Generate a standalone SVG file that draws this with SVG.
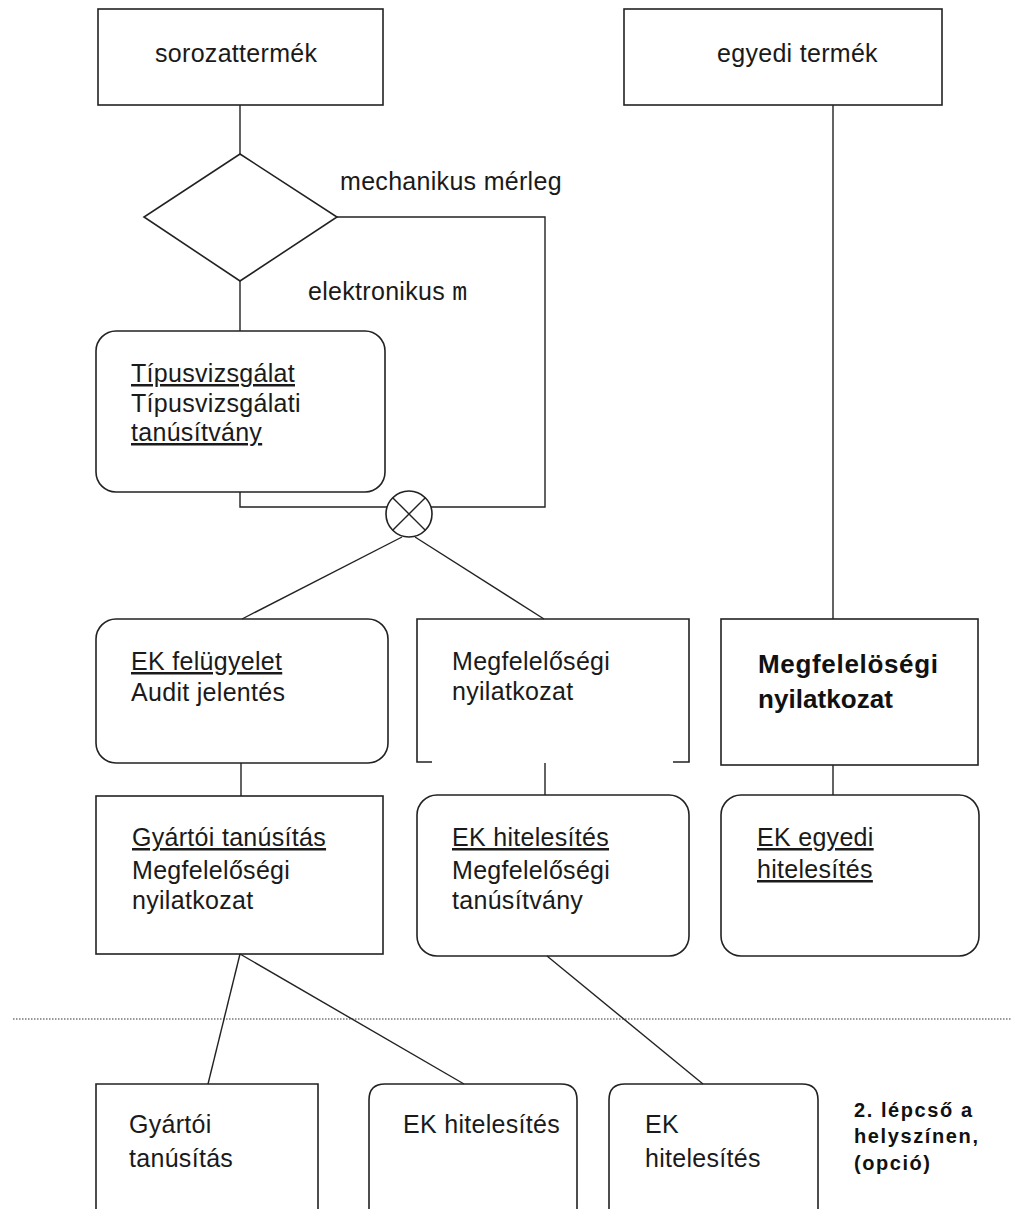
<svg xmlns="http://www.w3.org/2000/svg" width="1011" height="1209" viewBox="0 0 1011 1209">
<style>
.b{fill:none;stroke:#222;stroke-width:1.6}
.c{fill:none;stroke:#222;stroke-width:1.4}
.t{font-family:"Liberation Sans",Arial,sans-serif;font-size:25px;fill:#1a1a1a;letter-spacing:0.3px}
.tb{font-family:"Liberation Sans",Arial,sans-serif;font-size:26px;font-weight:bold;fill:#111}
.s{font-family:"Liberation Sans",Arial,sans-serif;font-size:20px;font-weight:bold;fill:#111}
.u{text-decoration:underline}
</style>
<rect width="1011" height="1209" fill="#fff"/>
<g id="connectors">
<line class="c" x1="240" y1="105" x2="240" y2="154"/>
<line class="c" x1="240" y1="281" x2="240" y2="331"/>
<polyline class="c" points="240,492 240,507 387,507"/>
<polyline class="c" points="431,507 545,507 545,217 337,217"/>
<line class="c" x1="402" y1="537" x2="242" y2="619"/>
<line class="c" x1="415" y1="537" x2="544" y2="619"/>
<line class="c" x1="833" y1="105" x2="833" y2="619"/>
<line class="c" x1="241" y1="763" x2="241" y2="796"/>
<line class="c" x1="545" y1="763" x2="545" y2="795"/>
<line class="c" x1="833" y1="765" x2="833" y2="795"/>
<line class="c" x1="240" y1="954" x2="208" y2="1084"/>
<line class="c" x1="240" y1="954" x2="464" y2="1084"/>
<line class="c" x1="547" y1="956" x2="703" y2="1084"/>
</g>
<line id="separator" x1="13" y1="1019" x2="1011" y2="1019" stroke="#333" stroke-width="1.2" stroke-dasharray="1.5 1.5"/>
<g id="sorozattermek">
<rect class="b" x="98" y="9" width="285" height="96"/>
<text class="t" x="155" y="62">sorozattermék</text>
</g>
<g id="egyedi-termek">
<rect class="b" x="624" y="9" width="318" height="96"/>
<text class="t" x="717" y="62">egyedi termék</text>
</g>
<g id="decision">
<polygon class="b" points="240,154 337,217 240,281 144,217"/>
<text class="t" x="340" y="190">mechanikus mérleg</text>
<text class="t" x="308" y="300">elektronikus <tspan font-family="'Liberation Mono',monospace">m</tspan></text>
</g>
<g id="tipusvizsgalat">
<rect class="b" x="96" y="331" width="289" height="161" rx="20"/>
<text class="t" x="131" y="382"><tspan class="u">Típusvizsgálat</tspan></text>
<text class="t" x="131" y="412">Típusvizsgálati</text>
<text class="t" x="131" y="441"><tspan class="u">tanúsítvány</tspan></text>
</g>
<g id="junction">
<circle class="b" cx="409" cy="514" r="23"/>
<line class="c" x1="392.7" y1="497.7" x2="425.3" y2="530.3"/>
<line class="c" x1="425.3" y1="497.7" x2="392.7" y2="530.3"/>
</g>
<g id="ek-felugyelet">
<rect class="b" x="96" y="619" width="292" height="144" rx="20"/>
<text class="t" x="131" y="670"><tspan class="u">EK felügyelet</tspan></text>
<text class="t" x="131" y="701">Audit jelentés</text>
</g>
<g id="megfelelosegi-nyilatkozat">
<path class="b" d="M432,762 H417 V619 H689 V762 H673"/>
<text class="t" x="452" y="670">Megfelelőségi</text>
<text class="t" x="452" y="700">nyilatkozat</text>
</g>
<g id="megfelelosegi-nyilatkozat-egyedi">
<rect class="b" x="721" y="619" width="257" height="146"/>
<text class="tb" x="758" y="673" textLength="180" lengthAdjust="spacing">Megfelelöségi</text>
<text class="tb" x="758" y="708" textLength="135" lengthAdjust="spacing">nyilatkozat</text>
</g>
<g id="gyartoi-tanusitas">
<rect class="b" x="96" y="796" width="287" height="158"/>
<text class="t" x="132" y="846"><tspan class="u">Gyártói tanúsítás</tspan></text>
<text class="t" x="132" y="879">Megfelelőségi</text>
<text class="t" x="132" y="909">nyilatkozat</text>
</g>
<g id="ek-hitelesites">
<rect class="b" x="417" y="795" width="272" height="161" rx="20"/>
<text class="t" x="452" y="846"><tspan class="u">EK hitelesítés</tspan></text>
<text class="t" x="452" y="879">Megfelelőségi</text>
<text class="t" x="452" y="909">tanúsítvány</text>
</g>
<g id="ek-egyedi-hitelesites">
<rect class="b" x="721" y="795" width="258" height="161" rx="20"/>
<text class="t" x="757" y="846"><tspan class="u">EK egyedi</tspan></text>
<text class="t" x="757" y="878"><tspan class="u">hitelesítés</tspan></text>
</g>
<g id="bottom-gyartoi">
<path class="b" d="M96,1215 V1084 H318 V1215"/>
<text class="t" x="129" y="1133">Gyártói</text>
<text class="t" x="129" y="1167">tanúsítás</text>
</g>
<g id="bottom-ek-hitelesites-1">
<path class="b" d="M369,1215 V1100 Q369,1084 385,1084 H561 Q577,1084 577,1100 V1215"/>
<text class="t" x="403" y="1133">EK hitelesítés</text>
</g>
<g id="bottom-ek-hitelesites-2">
<path class="b" d="M609,1215 V1100 Q609,1084 625,1084 H802 Q818,1084 818,1100 V1215"/>
<text class="t" x="645" y="1133">EK</text>
<text class="t" x="645" y="1167">hitelesítés</text>
</g>
<g id="note">
<text class="s" x="854" y="1117" textLength="118" lengthAdjust="spacing">2. lépcső a</text>
<text class="s" x="854" y="1143" textLength="124" lengthAdjust="spacing">helyszínen,</text>
<text class="s" x="854" y="1170" textLength="76" lengthAdjust="spacing">(opció)</text>
</g>
</svg>
